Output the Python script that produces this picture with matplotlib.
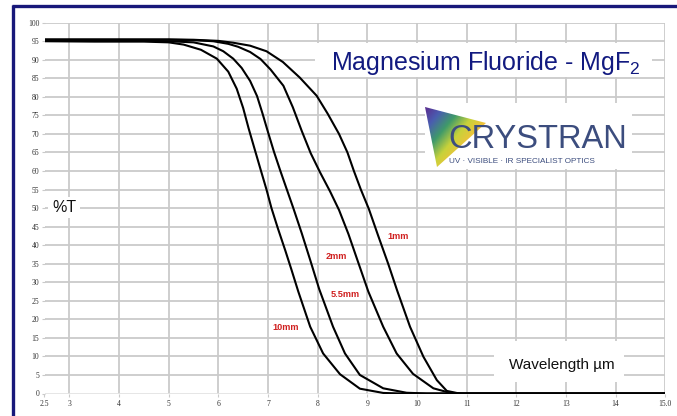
import numpy as np
import matplotlib
matplotlib.use("Agg")
import matplotlib.pyplot as plt
from matplotlib.patches import Rectangle, Polygon
import matplotlib.colors as mcolors

# ---------------- data ----------------
wl_10mm = [2.5, 3.5, 4.5, 5.0, 5.3, 5.65, 5.97, 6.2, 6.37, 6.5, 6.61, 6.74, 6.86, 6.97, 7.07, 7.2, 7.35, 7.47,
           7.61, 7.85, 8.11, 8.45, 8.85, 9.32, 9.7, 15.0]
t_10mm = [95.0, 94.9, 94.9, 94.7, 94.1, 92.7, 90.3, 86.8, 82.2, 77.0, 71.5, 65.5, 60.0, 55.0, 50.0, 44.5, 38.5, 33.5,
          27.5, 18.0, 10.8, 5.2, 1.3, 0.15, 0.0, 0.0]

wl_5_5mm = [2.5, 3.5, 4.5, 5.0, 5.5, 5.9, 6.1, 6.3, 6.47, 6.64, 6.78, 6.89, 7.0, 7.12, 7.25, 7.38, 7.51, 7.68,
            7.85, 8.03, 8.31, 8.55, 8.85, 9.32, 9.79, 10.2, 15.0]
t_5_5mm = [95.2, 95.1, 95.1, 95.0, 94.7, 93.6, 92.3, 90.3, 87.8, 84.3, 80.2, 75.5, 70.5, 65.2, 60.0, 55.0, 50.0, 43.2,
           36.0, 28.2, 18.0, 10.8, 5.0, 1.4, 0.2, 0.0, 0.0]

wl_2mm = [2.5, 3.5, 4.5, 5.0, 5.5, 5.9, 6.2, 6.4, 6.64, 6.85, 7.05, 7.31, 7.5, 7.68, 7.86, 8.05, 8.25, 8.43,
          8.62, 8.8, 9.02, 9.32, 9.59, 9.92, 10.33, 10.66, 10.95, 15.0]
t_2mm = [95.4, 95.4, 95.4, 95.4, 95.3, 95.0, 94.3, 93.5, 92.1, 90.2, 87.4, 83.0, 77.2, 70.8, 64.8, 59.6, 54.5, 49.5,
         43.0, 36.0, 27.5, 18.0, 10.8, 5.3, 1.4, 0.2, 0.0, 0.0]

wl_1mm = [2.5, 3.5, 4.5, 5.0, 5.5, 6.0, 6.3, 6.64, 6.97, 7.3, 7.64, 7.98, 8.2, 8.43, 8.6, 8.73, 8.87, 9.03,
          9.22, 9.42, 9.6, 9.86, 10.13, 10.4, 10.6, 10.85, 15.0]
t_1mm = [95.5, 95.5, 95.5, 95.5, 95.4, 95.1, 94.6, 93.8, 92.3, 89.4, 85.2, 80.3, 75.5, 70.0, 65.0, 60.0, 55.0, 49.8,
         42.5, 35.0, 27.8, 18.0, 9.9, 3.6, 0.7, 0.0, 0.0]

series_labels = ["1mm", "2mm", "5.5mm", "10mm"]

x_ticks = [2.5, 3, 4, 5, 6, 7, 8, 9, 10, 11, 12, 13, 14, 15]
x_tick_labels = ["2.5", "3", "4", "5", "6", "7", "8", "9", "10", "11", "12", "13", "14", "15.0"]
y_ticks = list(range(0, 101, 5))
y_tick_labels = [str(v) for v in y_ticks]

title_text = "Magnesium Fluoride - MgF$_2$"
y_label = "%T"
x_label = "Wavelength µm"

# ---------------- figure ----------------
W, H = 677, 416
plt.rcParams['mathtext.default'] = 'regular'
fig = plt.figure(figsize=(W / 100, H / 100), dpi=100)
fig.patch.set_facecolor("white")

x0, x1 = 44.5, 665.3
y0, y1 = 393.5, 22.7
ax = fig.add_axes([x0 / W, (H - y0) / H, (x1 - x0) / W, (y0 - y1) / H])
ax.set_xlim(2.5, 15)
ax.set_ylim(0, 100)
for s in ax.spines.values():
    s.set_visible(False)

grid_col = "#cacaca"
for xv in x_ticks[1:]:
    ax.axvline(xv, color=grid_col, lw=1.3, zorder=0)
for yv in y_ticks:
    ax.axhline(yv, color=grid_col if yv > 0 else "#e4e4e4", lw=1.3, zorder=0)

ax.set_xticks(x_ticks)
ax.set_xticklabels(x_tick_labels)
ax.set_yticks(y_ticks)
ax.set_yticklabels(y_tick_labels)
ax.tick_params(axis='both', direction='out', length=2.5, width=0.8, color=grid_col,
               labelsize=5.5, labelcolor="#333333")
ax.tick_params(axis='x', pad=2.5)
ax.tick_params(axis='y', pad=1.2)
for lab in ax.get_xticklabels() + ax.get_yticklabels():
    lab.set_family(["Liberation Serif", "DejaVu Serif"])

lc = "black"
for wl, t in [(wl_1mm, t_1mm), (wl_2mm, t_2mm), (wl_5_5mm, t_5_5mm), (wl_10mm, t_10mm)]:
    ax.plot(wl, t, color=lc, lw=1.5, solid_joinstyle='round', solid_capstyle='round', zorder=3)

label_pos = [(9.62, 42.3), (8.38, 36.9), (8.56, 26.7), (7.35, 17.8)]
for lab, (lx, ly) in zip(series_labels, label_pos):
    ax.text(lx, ly, lab, color="#d02020", fontsize=6.6, fontweight='bold',
            family=["Liberation Sans", "DejaVu Sans"], ha='center', va='center', zorder=4)

# ---------------- overlay (pixel coordinates) ----------------
ov = fig.add_axes([0, 0, 1, 1], zorder=5)
ov.set_xlim(0, W)
ov.set_ylim(H, 0)
ov.axis('off')
ov.patch.set_alpha(0)

# frame
navy = "#18187a"
ov.plot([13, 13], [5, H + 5], color=navy, lw=2.4, solid_capstyle='butt')
ov.plot([11.8, W + 5], [5.8, 5.8], color=navy, lw=2.4, solid_capstyle='butt')

# white boxes
ov.add_patch(Rectangle((315, 43), 337, 34, facecolor='white', edgecolor='none', zorder=1))
ov.add_patch(Rectangle((425, 103), 207, 66, facecolor='white', edgecolor='none', zorder=1))
ov.add_patch(Rectangle((48, 197), 32, 21, facecolor='white', edgecolor='none', zorder=1))
ov.add_patch(Rectangle((494, 341), 130, 41, facecolor='white', edgecolor='none', zorder=1))

ttl_col = "#121a80"
ov.text(486, 70, title_text, color=ttl_col, fontsize=18, family=["Liberation Sans", "DejaVu Sans"],
        ha='center', va='baseline', zorder=3)
ov.text(64, 208, y_label, color="#111111", fontsize=11.5, family=["Liberation Sans", "DejaVu Sans"],
        ha='center', va='center', zorder=3)
ov.text(562, 365, x_label, color="#111111", fontsize=11, family=["Liberation Sans", "DejaVu Sans"],
        ha='center', va='center', zorder=3)

# logo triangle with gradient
tri = Polygon([(425, 107), (486, 123), (437, 167)], closed=True, facecolor='none', edgecolor='none')
ov.add_patch(tri)
gx = np.linspace(0, 1, 120)
gy = np.linspace(0, 1, 120)
GX, GY = np.meshgrid(gx, gy)
G = (GX * 0.55 + GY * 0.45)
cmap = mcolors.LinearSegmentedColormap.from_list(
    "crys", ["#5b2c8f", "#4a5db0", "#3f9a6a", "#c8d23a", "#f3c13a", "#f19a3a", "#f08a3a"])
im = ov.imshow(G, cmap=cmap, extent=(425, 486, 167, 107), origin='upper', zorder=2,
               interpolation='bilinear', aspect='auto')
im.set_clip_path(tri)
ov.set_xlim(0, W)
ov.set_ylim(H, 0)

logo_col = "#3c4d7e"
ov.text(448, 148, "CRYSTRAN", color=logo_col, fontsize=23.5, family=["Liberation Sans", "DejaVu Sans"],
        ha='left', va='baseline', zorder=3)
ov.text(449, 163, "UV · VISIBLE · IR SPECIALIST OPTICS", color=logo_col, fontsize=5.9,
        family=["Liberation Sans", "DejaVu Sans"], ha='left', va='baseline', zorder=3)

fig.savefig("out.png", dpi=100)
